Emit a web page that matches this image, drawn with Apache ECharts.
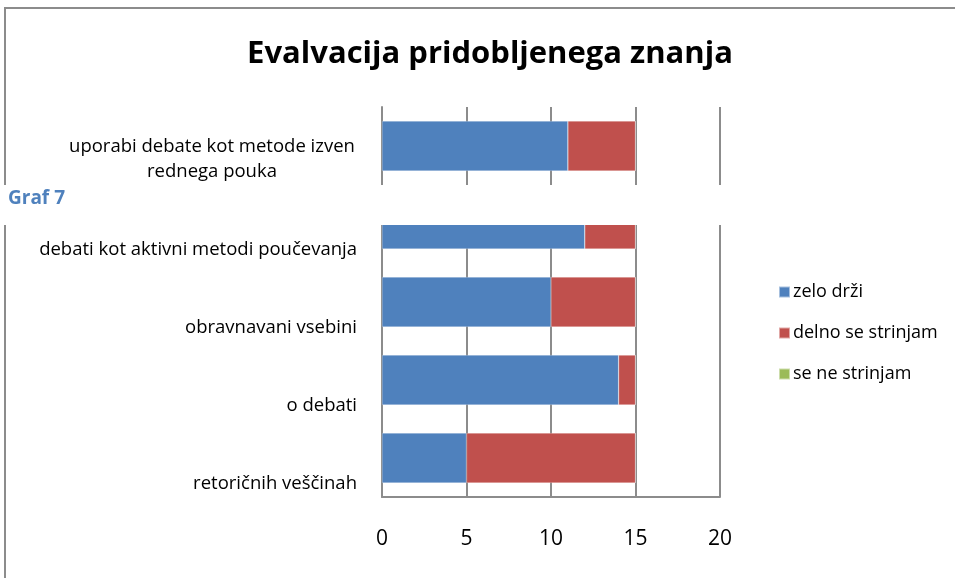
<!DOCTYPE html>
<html>
<head>
<meta charset="utf-8">
<script src="https://cdn.jsdelivr.net/npm/echarts@6/dist/echarts.min.js"></script>
<style>
  html, body { margin: 0; padding: 0; background: #fff; }
  #chart { width: 955px; height: 578px; }
</style>
</head>
<body>
<div id="chart"></div>
<script>
const categories = [
  'uporabi debate kot metode izven\nrednega pouka',
  'debati kot aktivni metodi poučevanja',
  'obravnavani vsebini',
  'o debati',
  'retoričnih veščinah'
]
const zeloDrzi = [11, 12, 10, 14, 5]
const delnoSeStrinjam = [4, 3, 5, 1, 10]
const seNeStrinjam = [0, 0, 0, 0, 0]
const xTicks = [0, 5, 10, 15, 20]

const font = '"Open Sans", Lato, sans-serif'
const chart = echarts.init(document.getElementById('chart'))

const makeSeries = (name, data, color) => {
  return {
    name,
    type: 'bar',
    stack: 'total',
    barWidth: '64%',
    itemStyle: { color, borderColor: 'rgba(255,255,255,0.5)', borderWidth: 0.5 },
    data
  }
}

// labels sit a bit below the bar centre, like in the original
const labelFormatter = v => {
  const lines = v.split('\n')
  if (lines.length === 1) return '{sp1| }\n{t|' + v + '}'
  return '{sp2| }\n{a|' + lines[0] + '}\n{b|' + lines[1] + '}'
}

const option = {
  animation: false,
  title: {
    text: 'Evalvacija pridobljenega znanja',
    left: 485,
    textAlign: 'center',
    top: 34,
    textStyle: { fontFamily: font, fontSize: 31, fontWeight: 'bold', color: '#000' }
  },
  legend: {
    orient: 'vertical',
    left: 773,
    top: 277,
    itemGap: 21,
    itemWidth: 11,
    itemHeight: 11,
    icon: 'rect',
    textStyle: { fontFamily: font, fontSize: 18, lineHeight: 20, color: '#000', padding: [0, 0, 0, -2] },
    data: ['zelo drži', 'delno se strinjam', 'se ne strinjam']
  },
  grid: { left: 382, right: 235, top: 107, bottom: 81 },
  xAxis: {
    type: 'value',
    min: xTicks[0],
    max: xTicks[xTicks.length - 1],
    interval: 5,
    axisLine: { show: true, lineStyle: { color: '#8c8c8c', width: 2 } },
    axisTick: { show: false },
    axisLabel: { fontFamily: font, fontSize: 21, color: '#000', margin: 32 },
    splitLine: { show: true, lineStyle: { color: '#8c8c8c', width: 2 } }
  },
  yAxis: {
    type: 'category',
    inverse: true,
    data: categories,
    axisLine: { show: true, lineStyle: { color: '#8c8c8c', width: 2 } },
    axisTick: { show: false },
    axisLabel: {
      fontFamily: font,
      fontSize: 18.5,
      color: '#000',
      margin: 25,
      formatter: labelFormatter,
      rich: {
        sp1: { fontSize: 1, lineHeight: 52 },
        sp2: { fontSize: 1, lineHeight: 27 },
        t: { fontFamily: font, fontSize: 18.5, color: '#000', lineHeight: 25 },
        a: { fontFamily: font, fontSize: 18.5, color: '#000', lineHeight: 25, width: 290, align: 'center' },
        b: { fontFamily: font, fontSize: 18.5, color: '#000', lineHeight: 25, align: 'center' }
      }
    }
  },
  series: [
    makeSeries('zelo drži', zeloDrzi, '#4f81bd'),
    makeSeries('delno se strinjam', delnoSeStrinjam, '#c0504d'),
    makeSeries('se ne strinjam', seNeStrinjam, '#9bbb59')
  ],
  graphic: [
    {
      type: 'rect',
      z: 100,
      shape: { x: 5, y: 8, width: 1200, height: 1200 },
      style: { fill: null, stroke: '#8c8c8c', lineWidth: 2 }
    },
    {
      type: 'rect',
      z: 101,
      shape: { x: 0, y: 185, width: 955, height: 40 },
      style: { fill: '#fff' }
    },
    {
      type: 'text',
      z: 102,
      left: 8,
      top: 189,
      style: { text: 'Graf 7', fill: '#4f81bd', font: 'bold 19px ' + font }
    }
  ]
}

chart.setOption(option)
</script>
</body>
</html>
